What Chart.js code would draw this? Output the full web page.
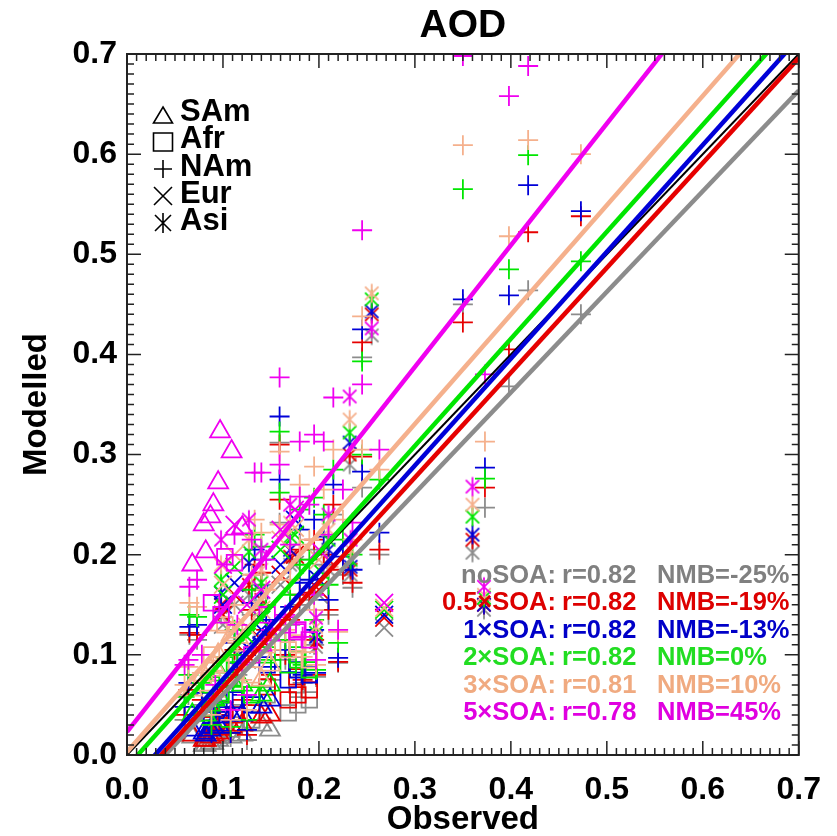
<!DOCTYPE html>
<html>
<head>
<meta charset="utf-8">
<script src="https://cdn.jsdelivr.net/npm/chart.js@4.4.0/dist/chart.umd.min.js"></script>
<style>
html, body { margin: 0; padding: 0; background: #fff; }
canvas { display: block; }
</style>
</head>
<body>
<canvas id="aod" width="837" height="836"></canvas>
<script>
// one entry per site: region, observed AOD, modelled AOD for each SOA case
var regions = [
    'SAm','SAm','SAm','SAm','SAm','SAm','SAm','SAm','SAm','SAm','SAm',
    'Afr','Afr','Afr','Afr','Afr','Afr','Afr','Afr','Afr','Afr',
    'NAm','NAm','NAm','NAm','NAm','NAm','NAm','NAm','NAm','NAm','NAm','NAm','NAm','NAm',
    'NAm','NAm','NAm','NAm','NAm','NAm','NAm','NAm','NAm','NAm','NAm','NAm','NAm','NAm',
    'NAm','NAm','NAm','NAm','NAm','NAm','NAm','NAm','NAm','NAm','NAm','NAm','NAm','NAm',
    'Eur','Eur','Eur','Eur','Eur','Eur','Eur','Eur',
    'Asi','Asi','Asi','Asi','Asi','Asi','Asi','Asi','Asi','Asi','Asi'
];
var observed = [
    0.097, 0.109, 0.095, 0.090, 0.087, 0.080, 0.120, 0.082, 0.149, 0.068, 0.140,
    0.178, 0.168, 0.146, 0.190, 0.102, 0.112, 0.088, 0.098, 0.130, 0.177,
    0.350, 0.398, 0.418, 0.473, 0.373, 0.220, 0.197, 0.245, 0.245, 0.215, 0.180, 0.195, 0.205, 0.159,
    0.159, 0.133, 0.140, 0.263, 0.235, 0.180, 0.190, 0.065, 0.073, 0.064, 0.088, 0.108, 0.092, 0.120,
    0.150, 0.165, 0.183, 0.225, 0.130, 0.112, 0.115, 0.078, 0.145, 0.170, 0.210, 0.195, 0.125, 0.060,
    0.268, 0.175, 0.160, 0.112, 0.100, 0.200, 0.140, 0.125,
    0.360, 0.372, 0.197, 0.255, 0.232, 0.127, 0.140, 0.098, 0.210, 0.233, 0.170
];
var noSOA = [
    0.020, 0.018, 0.015, 0.012, 0.012, 0.010, 0.020, 0.010, 0.025, 0.018, 0.030,
    0.050, 0.042, 0.060, 0.055, 0.035, 0.030, 0.020, 0.020, 0.035, 0.070,
    0.450, 0.368, 0.464, 0.440, 0.247, 0.092, 0.078, 0.397, 0.267, 0.240, 0.195, 0.205, 0.190, 0.312,
    0.232, 0.180, 0.170, 0.200, 0.167, 0.150, 0.155, 0.120, 0.115, 0.060, 0.020, 0.018, 0.035, 0.050,
    0.075, 0.095, 0.072, 0.180, 0.140, 0.100, 0.080, 0.050, 0.120, 0.130, 0.140, 0.110, 0.015, 0.035,
    0.127, 0.190, 0.170, 0.150, 0.130, 0.160, 0.110, 0.095,
    0.202, 0.145, 0.108, 0.419, 0.290, 0.160, 0.150, 0.140, 0.185, 0.180, 0.190
];
var soa05 = [
    0.030, 0.028, 0.022, 0.020, 0.018, 0.015, 0.030, 0.015, 0.040, 0.020, 0.038,
    0.060, 0.055, 0.068, 0.065, 0.045, 0.040, 0.030, 0.028, 0.042, 0.078,
    0.432, 0.405, 0.522, 0.538, 0.267, 0.093, 0.080, 0.412, 0.298, 0.250, 0.205, 0.215, 0.200, 0.310,
    0.255, 0.190, 0.182, 0.205, 0.172, 0.160, 0.162, 0.122, 0.120, 0.065, 0.025, 0.022, 0.040, 0.055,
    0.080, 0.100, 0.075, 0.185, 0.145, 0.105, 0.085, 0.055, 0.125, 0.135, 0.145, 0.115, 0.020, 0.040,
    0.137, 0.200, 0.180, 0.160, 0.140, 0.165, 0.115, 0.100,
    0.215, 0.150, 0.113, 0.440, 0.300, 0.170, 0.155, 0.150, 0.195, 0.185, 0.198
];
var soa1 = [
    0.045, 0.040, 0.030, 0.028, 0.025, 0.022, 0.040, 0.020, 0.055, 0.025, 0.048,
    0.085, 0.075, 0.090, 0.080, 0.060, 0.055, 0.040, 0.040, 0.050, 0.090,
    0.455, 0.459, 0.569, 0.543, 0.287, 0.097, 0.082, 0.425, 0.283, 0.270, 0.225, 0.235, 0.218, 0.338,
    0.275, 0.205, 0.195, 0.222, 0.185, 0.172, 0.175, 0.128, 0.130, 0.072, 0.022, 0.022, 0.043, 0.060,
    0.088, 0.105, 0.080, 0.198, 0.152, 0.112, 0.092, 0.062, 0.135, 0.148, 0.155, 0.125, 0.025, 0.048,
    0.140, 0.235, 0.190, 0.172, 0.150, 0.175, 0.125, 0.108,
    0.220, 0.150, 0.118, 0.443, 0.312, 0.192, 0.163, 0.162, 0.205, 0.188, 0.205
];
var soa2 = [
    0.080, 0.075, 0.060, 0.055, 0.050, 0.045, 0.070, 0.040, 0.070, 0.040, 0.060,
    0.095, 0.090, 0.100, 0.085, 0.090, 0.085, 0.070, 0.060, 0.060, 0.100,
    0.565, 0.485, 0.599, 0.493, 0.276, 0.112, 0.085, 0.393, 0.300, 0.285, 0.245, 0.257, 0.240, 0.323,
    0.262, 0.220, 0.208, 0.275, 0.200, 0.190, 0.195, 0.140, 0.138, 0.080, 0.030, 0.028, 0.050, 0.068,
    0.095, 0.115, 0.090, 0.215, 0.165, 0.125, 0.100, 0.072, 0.150, 0.160, 0.170, 0.135, 0.035, 0.058,
    0.145, 0.220, 0.205, 0.188, 0.160, 0.185, 0.135, 0.118,
    0.238, 0.157, 0.122, 0.455, 0.322, 0.203, 0.172, 0.175, 0.215, 0.195, 0.218
];
var soa3 = [
    0.130, 0.120, 0.100, 0.090, 0.085, 0.080, 0.110, 0.070, 0.090, 0.065, 0.075,
    0.110, 0.105, 0.110, 0.095, 0.130, 0.125, 0.100, 0.090, 0.080, 0.112,
    0.609, 0.518, 0.614, 0.600, 0.313, 0.123, 0.090, 0.438, 0.305, 0.305, 0.270, 0.288, 0.265, 0.303,
    0.230, 0.235, 0.222, 0.285, 0.215, 0.210, 0.215, 0.152, 0.148, 0.088, 0.040, 0.035, 0.058, 0.075,
    0.105, 0.125, 0.098, 0.235, 0.180, 0.150, 0.112, 0.082, 0.165, 0.175, 0.188, 0.145, 0.045, 0.070,
    0.147, 0.227, 0.215, 0.200, 0.170, 0.195, 0.145, 0.128,
    0.250, 0.160, 0.128, 0.461, 0.335, 0.215, 0.185, 0.190, 0.225, 0.205, 0.232
];
var soa5 = [
    0.323, 0.303, 0.272, 0.250, 0.238, 0.230, 0.227, 0.203, 0.120, 0.190, 0.110,
    0.125, 0.130, 0.140, 0.115, 0.198, 0.192, 0.152, 0.140, 0.100, 0.123,
    0.698, 0.658, 0.688, 0.760, 0.380, 0.125, 0.095, 0.524, 0.370, 0.357, 0.313, 0.320, 0.313, 0.377,
    0.290, 0.282, 0.282, 0.305, 0.232, 0.258, 0.250, 0.168, 0.175, 0.095, 0.055, 0.045, 0.070, 0.090,
    0.125, 0.140, 0.118, 0.265, 0.215, 0.220, 0.130, 0.100, 0.195, 0.210, 0.220, 0.160, 0.060, 0.090,
    0.152, 0.245, 0.225, 0.230, 0.190, 0.205, 0.165, 0.150,
    0.268, 0.168, 0.137, 0.426, 0.358, 0.235, 0.205, 0.215, 0.240, 0.215, 0.250
];

// regression lines and statistics, per case
var caseNames = ['noSOA', '0.5×SOA', '1×SOA', '2×SOA', '3×SOA', '5×SOA'];
var fitSlope = [1.005, 1.047, 1.067, 1.069, 1.092, 1.215];
var fitIntercept = [-0.040, -0.037, -0.031, -0.012, 0.003, 0.023];
var rValues = ['0.82', '0.82', '0.82', '0.82', '0.81', '0.78'];
var nmbValues = ['-25%', '-19%', '-13%', '0%', '10%', '45%'];

var legendRegions = ['SAm', 'Afr', 'NAm', 'Eur', 'Asi'];
var tickValues = [0, 0.1, 0.2, 0.3, 0.4, 0.5, 0.6, 0.7];
var tickLabels = ['0.0', '0.1', '0.2', '0.3', '0.4', '0.5', '0.6', '0.7'];

var caseValues = [noSOA, soa05, soa1, soa2, soa3, soa5];
var caseColors = ['#8c8c8c', '#e60000', '#0000d8', '#00e600', '#f5b08c', '#f000f0'];
var textColors = ['#808080', '#dd0000', '#0000c8', '#22dd22', '#f0aa80', '#e000e0'];
var FONT = '"Liberation Sans", Arial, sans-serif';

var shapes = { SAm: 'triangle', Afr: 'rect', NAm: 'cross', Eur: 'crossRot' };
var sizes = { SAm: 11.5, Afr: 11, NAm: 10, Eur: 12.5, Asi: 10 };

function asterisk(color) {
    var c = document.createElement('canvas');
    c.width = 24; c.height = 24;
    var g = c.getContext('2d');
    g.strokeStyle = color;
    g.lineWidth = 1.8;
    g.beginPath();
    g.moveTo(12, 2.5); g.lineTo(12, 21.5);
    g.moveTo(5.3, 5.3); g.lineTo(18.7, 18.7);
    g.moveTo(18.7, 5.3); g.lineTo(5.3, 18.7);
    g.stroke();
    return c;
}

var datasets = [];
caseValues.forEach(function (vals, k) {
    var star = asterisk(caseColors[k]);
    datasets.push({
        label: caseNames[k],
        data: observed.map(function (x, i) { return { x: x, y: vals[i] }; }),
        showLine: false,
        borderColor: caseColors[k],
        backgroundColor: 'rgba(0,0,0,0)',
        pointBorderWidth: 1.8,
        pointStyle: regions.map(function (r) { return r === 'Asi' ? star : shapes[r]; }),
        pointRadius: regions.map(function (r) { return sizes[r]; }),
        order: 20 - k
    });
});

// 1:1 line
datasets.push({
    data: [{ x: 0, y: 0 }, { x: 0.7, y: 0.7 }],
    showLine: true, borderColor: '#000', borderWidth: 2, pointRadius: 0, order: 7
});
fitSlope.forEach(function (s, k) {
    var b = fitIntercept[k];
    datasets.push({
        data: [{ x: 0, y: b }, { x: 0.7, y: b + 0.7 * s }],
        showLine: true, borderColor: caseColors[k], borderWidth: 4.5,
        pointRadius: 0, order: 6 - k
    });
});

function legendMark(ctx, reg, x, y) {
    ctx.save();
    ctx.strokeStyle = '#000';
    ctx.lineWidth = 1.6;
    ctx.beginPath();
    if (reg === 'SAm') {
        ctx.moveTo(x, y - 10); ctx.lineTo(x + 9.5, y + 6); ctx.lineTo(x - 9.5, y + 6); ctx.closePath();
    } else if (reg === 'Afr') {
        ctx.rect(x - 9.5, y - 9, 19, 18);
    } else if (reg === 'NAm') {
        ctx.moveTo(x - 9, y); ctx.lineTo(x + 9, y); ctx.moveTo(x, y - 9); ctx.lineTo(x, y + 9);
    } else if (reg === 'Eur') {
        ctx.moveTo(x - 9, y - 9); ctx.lineTo(x + 9, y + 9); ctx.moveTo(x + 9, y - 9); ctx.lineTo(x - 9, y + 9);
    } else {
        ctx.moveTo(x, y - 10); ctx.lineTo(x, y + 10);
        ctx.moveTo(x - 8, y - 8); ctx.lineTo(x + 8, y + 8); ctx.moveTo(x + 8, y - 8); ctx.lineTo(x - 8, y + 8);
    }
    ctx.stroke();
    ctx.restore();
}

var frame = {
    id: 'frame',
    afterDraw: function (chart) {
        var ctx = chart.ctx, a = chart.chartArea;
        var xs = chart.scales.x, ys = chart.scales.y;
        ctx.save();
        // box with inward ticks on all four sides
        ctx.strokeStyle = '#222';
        ctx.lineWidth = 2;
        ctx.strokeRect(a.left, a.top, a.right - a.left, a.bottom - a.top);
        ctx.lineWidth = 1.5;
        ctx.beginPath();
        for (var i = 0; i <= 70; i++) {
            var len = (i % 10 === 0) ? 14 : 7;
            var px = xs.getPixelForValue(i / 100), py = ys.getPixelForValue(i / 100);
            ctx.moveTo(px, a.bottom); ctx.lineTo(px, a.bottom - len);
            ctx.moveTo(px, a.top); ctx.lineTo(px, a.top + len);
            ctx.moveTo(a.left, py); ctx.lineTo(a.left + len, py);
            ctx.moveTo(a.right, py); ctx.lineTo(a.right - len, py);
        }
        ctx.stroke();

        // title
        ctx.fillStyle = '#000';
        ctx.textAlign = 'center';
        ctx.textBaseline = 'alphabetic';
        ctx.font = 'bold 39px ' + FONT;
        ctx.fillText('AOD', (a.left + a.right) / 2, 37);

        // region legend
        ctx.font = 'bold 31px ' + FONT;
        ctx.textAlign = 'left';
        var markY = [117, 142, 169, 196, 223];
        var textY = [121, 148, 176, 203, 230];
        legendRegions.forEach(function (reg, i) {
            legendMark(ctx, reg, 163, markY[i]);
            ctx.fillStyle = '#000';
            ctx.fillText(reg, 180, textY[i]);
        });

        // statistics
        ctx.font = 'bold 25.5px ' + FONT;
        caseNames.forEach(function (name, k) {
            var y = 583 + k * 27.4;
            ctx.fillStyle = textColors[k];
            ctx.textAlign = 'right';
            ctx.fillText(name + ':', 556, y);
            ctx.textAlign = 'left';
            ctx.fillText('r=' + rValues[k], 562, y);
            ctx.fillText('NMB=' + nmbValues[k], 657, y);
        });
        ctx.restore();
    }
};

var tickFont = { family: FONT, weight: 'bold', size: 32 };
var titleFont = { family: FONT, weight: 'bold', size: 33, lineHeight: 1 };

new Chart(document.getElementById('aod').getContext('2d'), {
    type: 'scatter',
    data: { datasets: datasets },
    options: {
        responsive: false,
        animation: false,
        events: [],
        layout: { padding: { top: 54, right: 24, left: 0, bottom: 0 } },
        plugins: { legend: { display: false }, tooltip: { enabled: false }, title: { display: false } },
        scales: {
            x: {
                type: 'linear', min: 0, max: 0.7,
                grid: { display: false, drawTicks: false }, border: { display: false },
                afterBuildTicks: function (s) { s.ticks = tickValues.map(function (v) { return { value: v }; }); },
                afterFit: function (s) { s.height = 81; },
                ticks: {
                    padding: 16, color: '#000', font: tickFont, maxRotation: 0, autoSkip: false,
                    callback: function (v, i) { return tickLabels[i]; }
                },
                title: { display: true, text: 'Observed', color: '#000', font: titleFont, padding: 0 }
            },
            y: {
                type: 'linear', min: 0, max: 0.7,
                grid: { display: false, drawTicks: false }, border: { display: false },
                afterBuildTicks: function (s) { s.ticks = tickValues.map(function (v) { return { value: v }; }); },
                afterFit: function (s) { s.width = 127; },
                ticks: {
                    padding: 10, color: '#000', font: tickFont, autoSkip: false,
                    callback: function (v, i) { return tickLabels[i]; }
                },
                title: { display: true, text: 'Modelled', color: '#000', font: titleFont, padding: { top: 20, bottom: 0 } }
            }
        }
    },
    plugins: [frame]
});
</script>
</body>
</html>
